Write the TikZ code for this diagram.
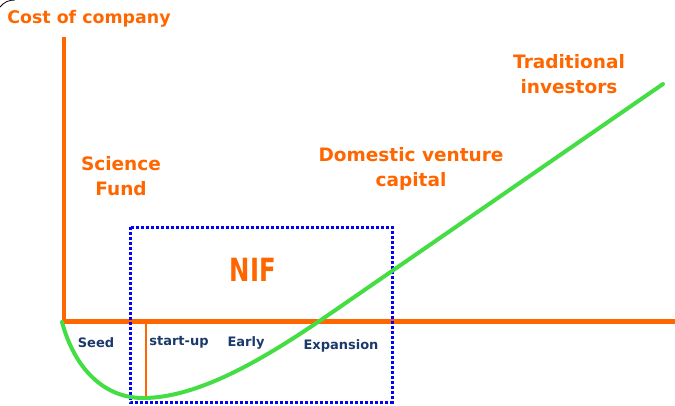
\documentclass[tikz,border=0pt]{standalone}
\usepackage{fontspec}
\setmainfont{DejaVu Sans}
\definecolor{axisorange}{HTML}{FF6600}
\definecolor{curvegreen}{HTML}{44DD44}
\definecolor{nifblue}{HTML}{0000FF}
\definecolor{stagenavy}{HTML}{1B3A6B}
\begin{document}
\begin{tikzpicture}[x=1pt,y=-1pt,
  axis/.style={draw=axisorange,line width=4.5pt},
  label/.style={text=axisorange,font=\bfseries\fontsize{18.5}{25}\selectfont,align=center,inner sep=0pt},
  stage/.style={text=stagenavy,font=\bfseries\fontsize{13}{15}\selectfont,inner sep=0pt},
  growth/.style={draw=curvegreen,line width=4pt,line cap=round}]
\useasboundingbox (0,0) rectangle (675,405);
% small stray arc in the corner
\draw[black,line width=0.8pt] (0,7) .. controls (4,2) and (9,0) .. (15,0);
% axes
\coordinate (origin) at (64,321.5);
\coordinate (ytop) at (64,37);
\coordinate (xend) at (675,321.5);
\draw[axis] (ytop) -- (origin |- 0,323.5);
\draw[axis] (62,321.5) -- (xend);
% seed / start-up divider
\coordinate (divtop) at (146,323);
\coordinate (divbot) at (146,398);
\draw[axisorange,line width=2pt] (divtop) -- (divbot);
% NIF region
\coordinate (nifnw) at (130,227);
\coordinate (nifse) at (392,402);
\draw[nifblue,line width=3pt,dash pattern=on 3pt off 2pt] (nifnw) rectangle (nifse);
% growth curve
\coordinate (cstart) at (62,322);
\coordinate (cmin) at (143,398);
\coordinate (cmid) at (350,300);
\coordinate (cend) at (663,84);
\draw[growth] (cstart) .. controls (75,370) and (105,398) .. (cmin)
  .. controls (210,398) and (292,340) .. (cmid) -- (cend);
% labels
\node[label,font=\bfseries\fontsize{17.4}{20}\selectfont] (cost) at (89,19) {Cost of company};
\node[label] (science) at (121,176) {Science\\Fund};
\node[label] (dvc) at (411,169) {Domestic venture\\capital};
\node[label] (trad) at (569,74) {Traditional\\investors};
\node[label,font=\bfseries\fontsize{32}{34}\selectfont] (nif) at (253,270) {\scalebox{0.76}[1]{NIF}};
\node[stage] (seed) at (96,343) {Seed};
\node[stage] (startup) at (179,342) {start-up};
\node[stage] (early) at (246,343) {Early};
\node[stage] (expansion) at (341,346) {Expansion};
\end{tikzpicture}
\end{document}
